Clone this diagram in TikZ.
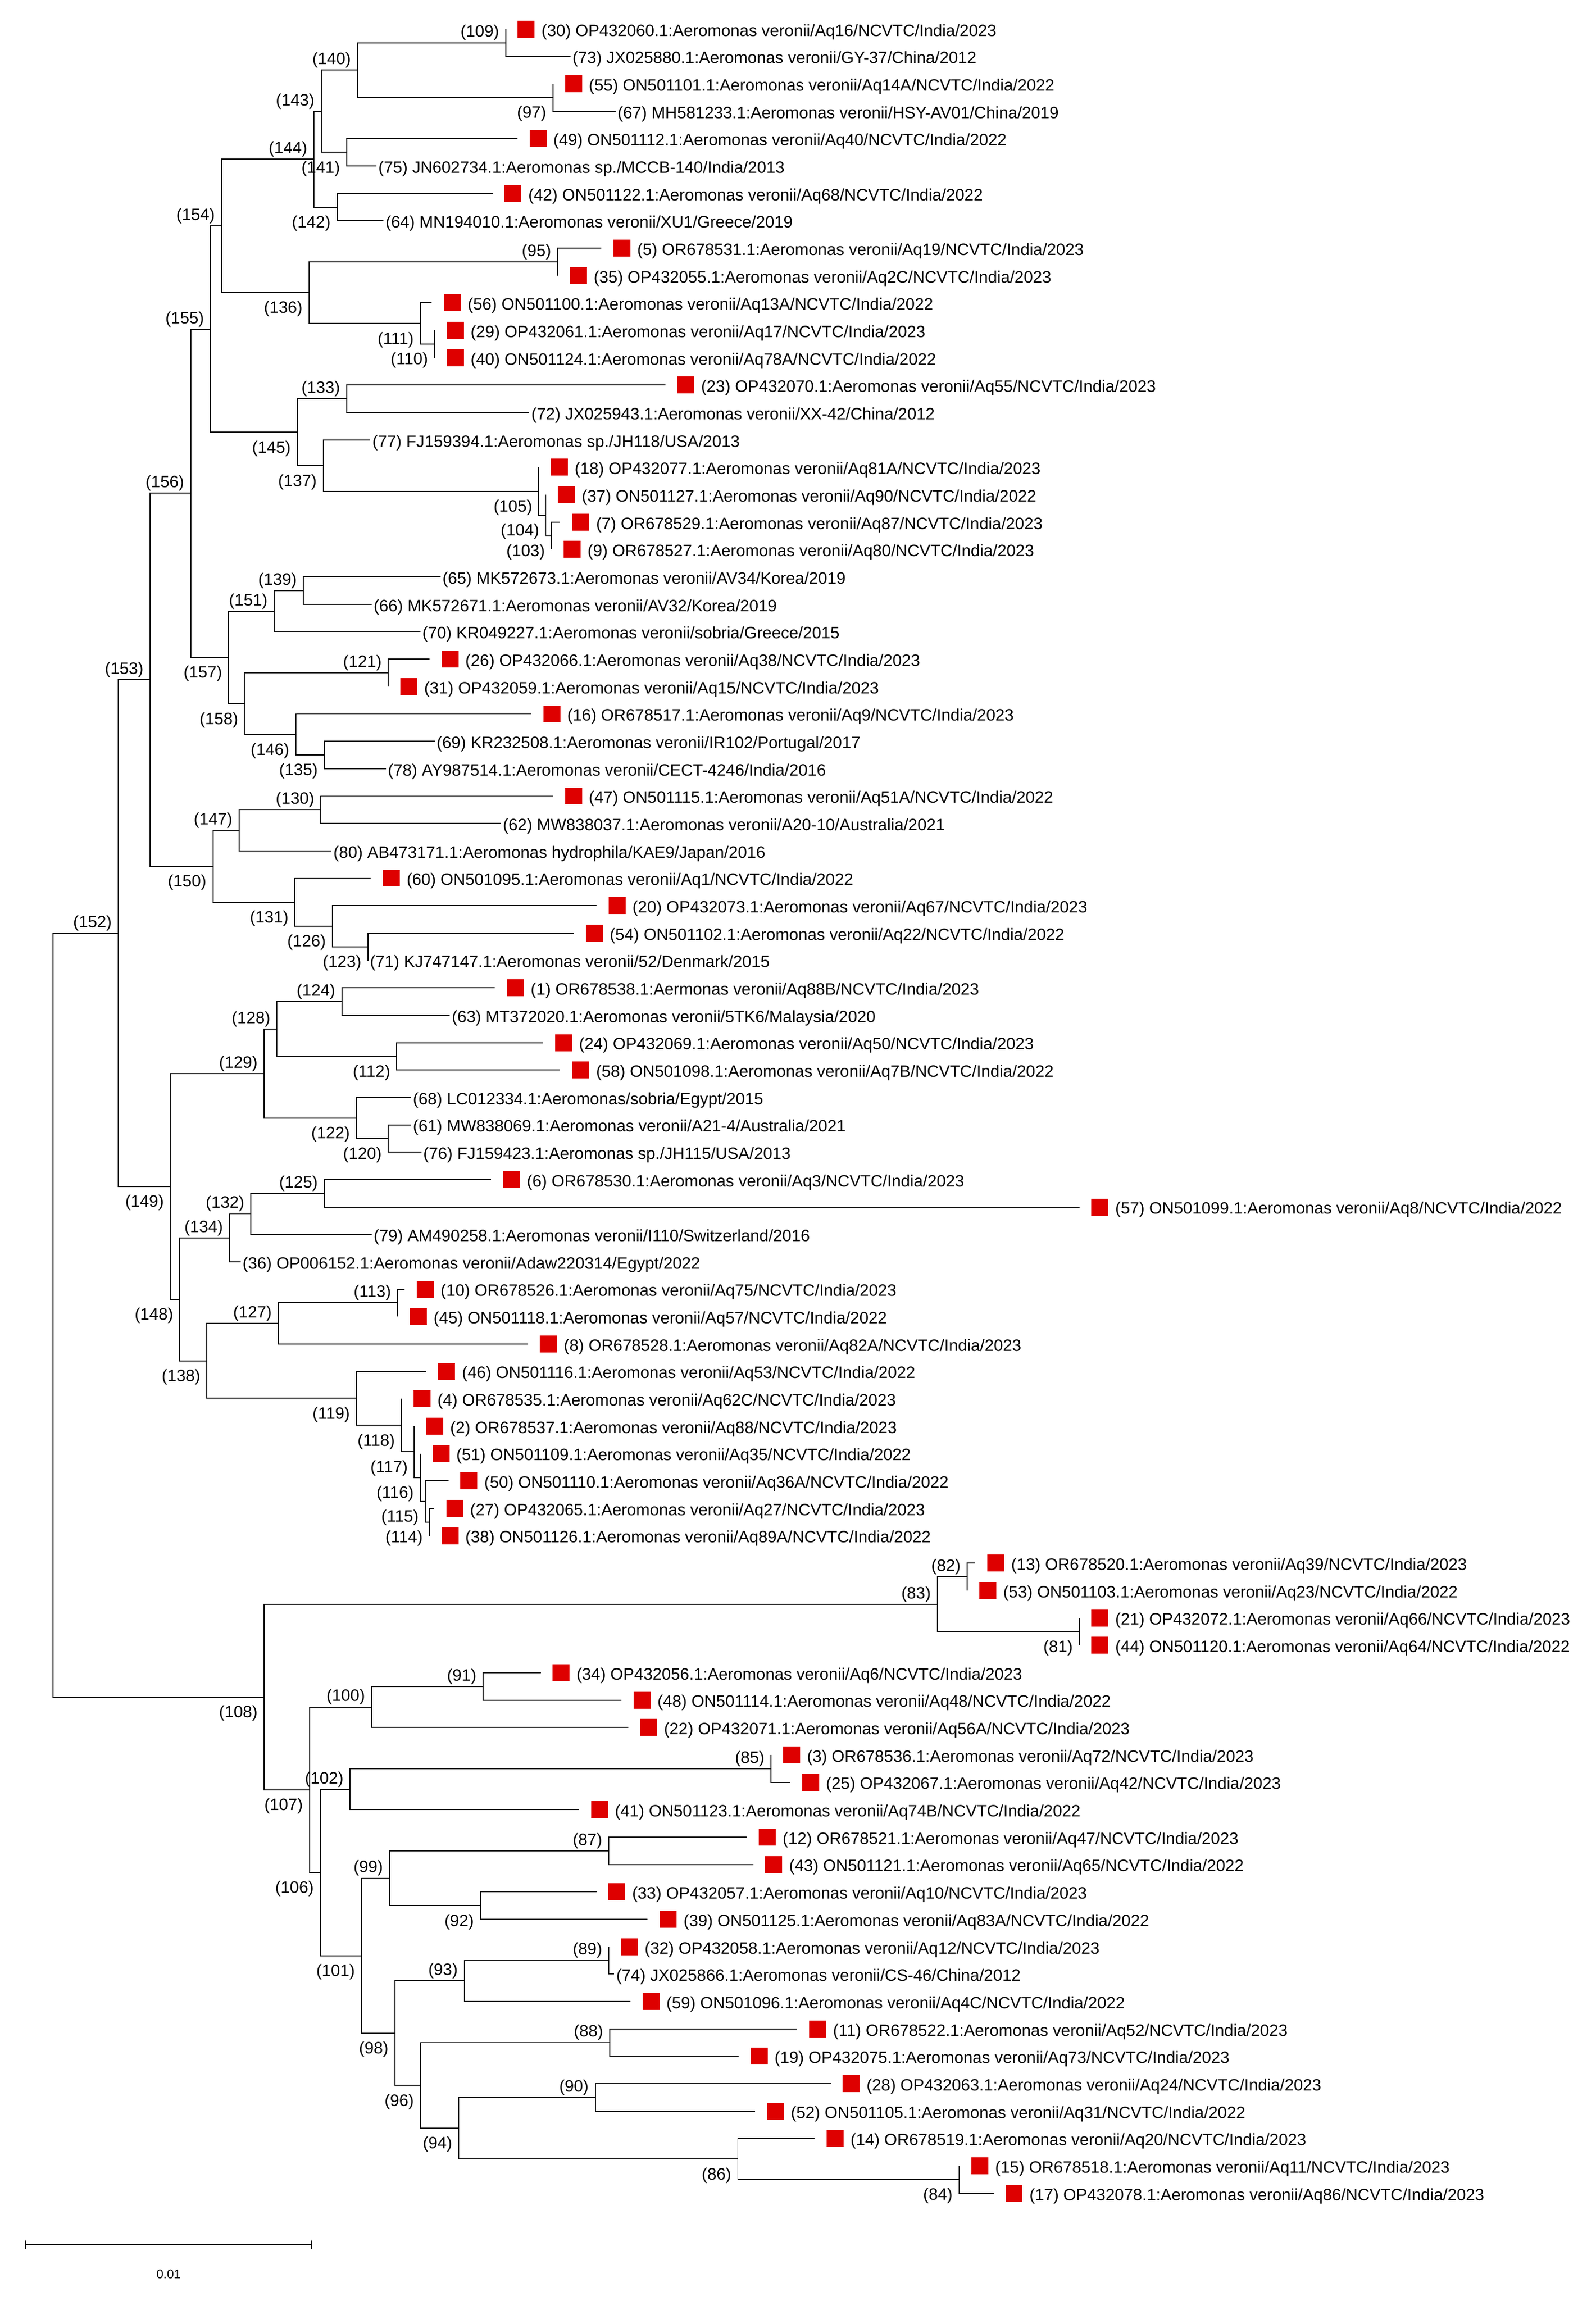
\documentclass[tikz,border=0pt]{standalone}
\usepackage{fontspec}
\setmainfont{Liberation Sans}
\usetikzlibrary{calc}
\definecolor{sqred}{RGB}{222,0,0}
\tikzset{
  br/.style={line width=0.7pt, draw=black},
  sq/.style={fill=sqred, draw=none, minimum size=11.5pt, inner sep=0pt, anchor=west},
  lt/.style={anchor=base west, inner sep=0pt, font=\fontsize{11.2pt}{13pt}\selectfont},
  labA/.style={anchor=base east, inner sep=0pt, xshift=-4.3pt, yshift=3.8pt, font=\fontsize{11.2pt}{13pt}\selectfont},
  labB/.style={anchor=base east, inner sep=0pt, xshift=-4.3pt, yshift=-14pt, font=\fontsize{11.2pt}{13pt}\selectfont},
  sbtext/.style={inner sep=0pt, font=\fontsize{8.5pt}{10pt}\selectfont}
}
% India leaf: name, branch-end x, row, text
\newcommand{\LeafI}[4]{%
  \coordinate (L#1) at (#2,{19.7+18.6*(#3-1)});
  \node[sq] (S#1) at ([xshift=8pt]L#1) {};
  \node[lt] (T#1) at ([xshift=24.2pt,yshift=-4.8pt]L#1) {#4};
}
% other leaf: name, branch-end x, row, text
\newcommand{\LeafN}[4]{%
  \coordinate (L#1) at (#2,{19.7+18.6*(#3-1)});
  \node[lt] (T#1) at ([xshift=1.2pt,yshift=-4.8pt]L#1) {#4};
}
% internal node: id, x, first child, last child, label style
\newcommand{\Inode}[5]{%
  \coordinate (m#1) at ($(#3)!0.5!(#4)$);
  \coordinate (n#1) at (#2,0 |- m#1);
  \draw[br] (#3) -- (n#1 |- #3) -- (n#1 |- #4) -- (#4);
  \node[#5] (lab#1) at (n#1) {(#1)};
}
\begin{document}
\begin{tikzpicture}[x=1pt,y=-1pt]
\useasboundingbox (0,0) rectangle (1083.2,1562.3);
\LeafI{30}{343.3}{1}{(30) OP432060.1:Aeromonas veronii/Aq16/NCVTC/India/2023}
\LeafN{73}{387.3}{2}{(73) JX025880.1:Aeromonas veronii/GY-37/China/2012}
\LeafI{55}{375.4}{3}{(55) ON501101.1:Aeromonas veronii/Aq14A/NCVTC/India/2022}
\LeafN{67}{417.9}{4}{(67) MH581233.1:Aeromonas veronii/HSY-AV01/China/2019}
\LeafI{49}{351.3}{5}{(49) ON501112.1:Aeromonas veronii/Aq40/NCVTC/India/2022}
\LeafN{75}{255.5}{6}{(75) JN602734.1:Aeromonas sp./MCCB-140/India/2013}
\LeafI{42}{334.3}{7}{(42) ON501122.1:Aeromonas veronii/Aq68/NCVTC/India/2022}
\LeafN{64}{260.4}{8}{(64) MN194010.1:Aeromonas veronii/XU1/Greece/2019}
\LeafI{5}{408.2}{9}{(5) OR678531.1:Aeromonas veronii/Aq19/NCVTC/India/2023}
\LeafI{35}{378.7}{10}{(35) OP432055.1:Aeromonas veronii/Aq2C/NCVTC/India/2023}
\LeafI{56}{293.1}{11}{(56) ON501100.1:Aeromonas veronii/Aq13A/NCVTC/India/2022}
\LeafI{29}{295.1}{12}{(29) OP432061.1:Aeromonas veronii/Aq17/NCVTC/India/2023}
\LeafI{40}{295.1}{13}{(40) ON501124.1:Aeromonas veronii/Aq78A/NCVTC/India/2022}
\LeafI{23}{451.6}{14}{(23) OP432070.1:Aeromonas veronii/Aq55/NCVTC/India/2023}
\LeafN{72}{359.3}{15}{(72) JX025943.1:Aeromonas veronii/XX-42/China/2012}
\LeafN{77}{251.4}{16}{(77) FJ159394.1:Aeromonas sp./JH118/USA/2013}
\LeafI{18}{365.8}{17}{(18) OP432077.1:Aeromonas veronii/Aq81A/NCVTC/India/2023}
\LeafI{37}{370.6}{18}{(37) ON501127.1:Aeromonas veronii/Aq90/NCVTC/India/2022}
\LeafI{7}{380.3}{19}{(7) OR678529.1:Aeromonas veronii/Aq87/NCVTC/India/2023}
\LeafI{9}{374.5}{20}{(9) OR678527.1:Aeromonas veronii/Aq80/NCVTC/India/2023}
\LeafN{65}{299.0}{21}{(65) MK572673.1:Aeromonas veronii/AV34/Korea/2019}
\LeafN{66}{252.3}{22}{(66) MK572671.1:Aeromonas veronii/AV32/Korea/2019}
\LeafN{70}{285.4}{23}{(70) KR049227.1:Aeromonas veronii/sobria/Greece/2015}
\LeafI{26}{291.5}{24}{(26) OP432066.1:Aeromonas veronii/Aq38/NCVTC/India/2023}
\LeafI{31}{263.6}{25}{(31) OP432059.1:Aeromonas veronii/Aq15/NCVTC/India/2023}
\LeafI{16}{360.7}{26}{(16) OR678517.1:Aeromonas veronii/Aq9/NCVTC/India/2023}
\LeafN{69}{295.1}{27}{(69) KR232508.1:Aeromonas veronii/IR102/Portugal/2017}
\LeafN{78}{262.0}{28}{(78) AY987514.1:Aeromonas veronii/CECT-4246/India/2016}
\LeafI{47}{375.4}{29}{(47) ON501115.1:Aeromonas veronii/Aq51A/NCVTC/India/2022}
\LeafN{62}{340.1}{30}{(62) MW838037.1:Aeromonas veronii/A20-10/Australia/2021}
\LeafN{80}{225.0}{31}{(80) AB473171.1:Aeromonas hydrophila/KAE9/Japan/2016}
\LeafI{60}{251.7}{32}{(60) ON501095.1:Aeromonas veronii/Aq1/NCVTC/India/2022}
\LeafI{20}{405.0}{33}{(20) OP432073.1:Aeromonas veronii/Aq67/NCVTC/India/2023}
\LeafI{54}{389.6}{34}{(54) ON501102.1:Aeromonas veronii/Aq22/NCVTC/India/2022}
\LeafN{71}{249.8}{35}{(71) KJ747147.1:Aeromonas veronii/52/Denmark/2015}
\LeafI{1}{335.9}{36}{(1) OR678538.1:Aermonas veronii/Aq88B/NCVTC/India/2023}
\LeafN{63}{305.4}{37}{(63) MT372020.1:Aeromonas veronii/5TK6/Malaysia/2020}
\LeafI{24}{368.7}{38}{(24) OP432069.1:Aeromonas veronii/Aq50/NCVTC/India/2023}
\LeafI{58}{380.3}{39}{(58) ON501098.1:Aeromonas veronii/Aq7B/NCVTC/India/2022}
\LeafN{68}{279.0}{40}{(68) LC012334.1:Aeromonas/sobria/Egypt/2015}
\LeafN{61}{279.0}{41}{(61) MW838069.1:Aeromonas veronii/A21-4/Australia/2021}
\LeafN{76}{286.0}{42}{(76) FJ159423.1:Aeromonas sp./JH115/USA/2013}
\LeafI{6}{333.3}{43}{(6) OR678530.1:Aeromonas veronii/Aq3/NCVTC/India/2023}
\LeafI{57}{732.8}{44}{(57) ON501099.1:Aeromonas veronii/Aq8/NCVTC/India/2022}
\LeafN{79}{252.3}{45}{(79) AM490258.1:Aeromonas veronii/I110/Switzerland/2016}
\LeafN{36}{163.3}{46}{(36) OP006152.1:Aeromonas veronii/Adaw220314/Egypt/2022}
\LeafI{10}{274.8}{47}{(10) OR678526.1:Aeromonas veronii/Aq75/NCVTC/India/2023}
\LeafI{45}{270.0}{48}{(45) ON501118.1:Aeromonas veronii/Aq57/NCVTC/India/2022}
\LeafI{8}{358.4}{49}{(8) OR678528.1:Aeromonas veronii/Aq82A/NCVTC/India/2023}
\LeafI{46}{289.3}{50}{(46) ON501116.1:Aeromonas veronii/Aq53/NCVTC/India/2022}
\LeafI{4}{272.6}{51}{(4) OR678535.1:Aeromonas veronii/Aq62C/NCVTC/India/2023}
\LeafI{2}{281.3}{52}{(2) OR678537.1:Aeromonas veronii/Aq88/NCVTC/India/2023}
\LeafI{51}{285.4}{53}{(51) ON501109.1:Aeromonas veronii/Aq35/NCVTC/India/2022}
\LeafI{50}{304.4}{54}{(50) ON501110.1:Aeromonas veronii/Aq36A/NCVTC/India/2022}
\LeafI{27}{294.8}{55}{(27) OP432065.1:Aeromonas veronii/Aq27/NCVTC/India/2023}
\LeafI{38}{291.5}{56}{(38) ON501126.1:Aeromonas veronii/Aq89A/NCVTC/India/2022}
\LeafI{13}{662.1}{57}{(13) OR678520.1:Aeromonas veronii/Aq39/NCVTC/India/2023}
\LeafI{53}{656.7}{58}{(53) ON501103.1:Aeromonas veronii/Aq23/NCVTC/India/2022}
\LeafI{21}{732.8}{59}{(21) OP432072.1:Aeromonas veronii/Aq66/NCVTC/India/2023}
\LeafI{44}{732.8}{60}{(44) ON501120.1:Aeromonas veronii/Aq64/NCVTC/India/2022}
\LeafI{34}{367.0}{61}{(34) OP432056.1:Aeromonas veronii/Aq6/NCVTC/India/2023}
\LeafI{48}{422.0}{62}{(48) ON501114.1:Aeromonas veronii/Aq48/NCVTC/India/2022}
\LeafI{22}{426.4}{63}{(22) OP432071.1:Aeromonas veronii/Aq56A/NCVTC/India/2023}
\LeafI{3}{523.5}{64}{(3) OR678536.1:Aeromonas veronii/Aq72/NCVTC/India/2023}
\LeafI{25}{536.4}{65}{(25) OP432067.1:Aeromonas veronii/Aq42/NCVTC/India/2023}
\LeafI{41}{393.1}{66}{(41) ON501123.1:Aeromonas veronii/Aq74B/NCVTC/India/2022}
\LeafI{12}{507.0}{67}{(12) OR678521.1:Aeromonas veronii/Aq47/NCVTC/India/2023}
\LeafI{43}{511.4}{68}{(43) ON501121.1:Aeromonas veronii/Aq65/NCVTC/India/2022}
\LeafI{33}{404.8}{69}{(33) OP432057.1:Aeromonas veronii/Aq10/NCVTC/India/2023}
\LeafI{39}{439.7}{70}{(39) ON501125.1:Aeromonas veronii/Aq83A/NCVTC/India/2022}
\LeafI{32}{413.3}{71}{(32) OP432058.1:Aeromonas veronii/Aq12/NCVTC/India/2023}
\LeafN{74}{417.0}{72}{(74) JX025866.1:Aeromonas veronii/CS-46/China/2012}
\LeafI{59}{428.0}{73}{(59) ON501096.1:Aeromonas veronii/Aq4C/NCVTC/India/2022}
\LeafI{11}{541.2}{74}{(11) OR678522.1:Aeromonas veronii/Aq52/NCVTC/India/2023}
\LeafI{19}{501.5}{75}{(19) OP432075.1:Aeromonas veronii/Aq73/NCVTC/India/2023}
\LeafI{28}{563.9}{76}{(28) OP432063.1:Aeromonas veronii/Aq24/NCVTC/India/2023}
\LeafI{52}{512.5}{77}{(52) ON501105.1:Aeromonas veronii/Aq31/NCVTC/India/2022}
\LeafI{14}{553.0}{78}{(14) OR678519.1:Aeromonas veronii/Aq20/NCVTC/India/2023}
\LeafI{15}{651.2}{79}{(15) OR678518.1:Aeromonas veronii/Aq11/NCVTC/India/2023}
\LeafI{17}{674.5}{80}{(17) OP432078.1:Aeromonas veronii/Aq86/NCVTC/India/2023}
% upper clade
\Inode{109}{343.3}{L30}{L73}{labA}
\Inode{97}{375.4}{L55}{L67}{labB}
\Inode{140}{242.7}{n109}{n97}{labA}
\Inode{141}{235.3}{L49}{L75}{labB}
\Inode{143}{218.0}{n140}{n141}{labA}
\Inode{142}{228.9}{L42}{L64}{labB}
\Inode{144}{213.1}{n143}{n142}{labA}
\Inode{95}{378.7}{L5}{L35}{labA}
\Inode{110}{295.1}{L29}{L40}{labB}
\Inode{111}{285.4}{L56}{n110}{labB}
\Inode{136}{209.9}{n95}{n111}{labB}
\Inode{154}{150.4}{n144}{n136}{labA}
\Inode{133}{235.3}{L23}{L72}{labA}
\Inode{103}{374.5}{L7}{L9}{labB}
\Inode{104}{370.6}{L37}{n103}{labB}
\Inode{105}{365.8}{L18}{n104}{labB}
\Inode{137}{219.5}{L77}{n105}{labB}
\Inode{145}{201.9}{n133}{n137}{labB}
\Inode{155}{143.0}{n154}{n145}{labA}
\Inode{139}{206.0}{L65}{L66}{labA}
\Inode{151}{186.1}{n139}{L70}{labA}
\Inode{121}{263.6}{L26}{L31}{labA}
\Inode{135}{220.2}{L69}{L78}{labB}
\Inode{146}{200.9}{L16}{n135}{labB}
\Inode{158}{166.2}{n121}{n146}{labB}
\Inode{157}{155.3}{n151}{n158}{labB}
\Inode{156}{129.5}{n155}{n157}{labA}
\Inode{130}{217.9}{L47}{L62}{labA}
\Inode{147}{162.3}{n130}{L80}{labA}
\Inode{123}{249.8}{L54}{L71}{labB}
\Inode{126}{225.7}{L20}{n123}{labB}
\Inode{131}{200.3}{L60}{n126}{labB}
\Inode{150}{144.6}{n147}{n131}{labB}
\Inode{153}{101.9}{n156}{n150}{labA}
\Inode{124}{232.1}{L1}{L63}{labA}
\Inode{112}{269.4}{L24}{L58}{labB}
\Inode{128}{188.0}{n124}{n112}{labA}
\Inode{120}{263.6}{L61}{L76}{labB}
\Inode{122}{242.0}{L68}{n120}{labB}
\Inode{129}{179.4}{n128}{n122}{labA}
\Inode{125}{220.2}{L6}{L57}{labA}
\Inode{132}{170.4}{n125}{L79}{labA}
\Inode{134}{155.9}{n132}{L36}{labA}
\Inode{113}{270.0}{L10}{L45}{labA}
\Inode{127}{189.0}{n113}{L8}{labA}
\Inode{114}{291.5}{L27}{L38}{labB}
\Inode{115}{288.7}{L50}{n114}{labB}
\Inode{116}{285.4}{L51}{n115}{labB}
\Inode{117}{281.3}{L2}{n116}{labB}
\Inode{118}{272.6}{L4}{n117}{labB}
\Inode{119}{242.0}{L46}{n118}{labB}
\Inode{138}{140.5}{n127}{n119}{labB}
\Inode{148}{122.1}{n134}{n138}{labB}
\Inode{149}{115.7}{n129}{n148}{labB}
\Inode{152}{80.4}{n153}{n149}{labA}
% lower clade
\Inode{82}{656.7}{L13}{L53}{labA}
\Inode{81}{732.8}{L21}{L44}{labB}
\Inode{83}{636.4}{n82}{n81}{labA}
\Inode{91}{327.9}{L34}{L48}{labA}
\Inode{100}{252.3}{n91}{L22}{labA}
\Inode{85}{523.5}{L3}{L25}{labA}
\Inode{102}{237.7}{n85}{L41}{labA}
\Inode{87}{413.3}{L12}{L43}{labA}
\Inode{92}{326.2}{L33}{L39}{labB}
\Inode{99}{264.5}{n87}{n92}{labA}
\Inode{89}{413.3}{L32}{L74}{labA}
\Inode{93}{315.2}{n89}{L59}{labA}
\Inode{88}{414.0}{L11}{L19}{labA}
\Inode{90}{404.1}{L28}{L52}{labA}
\Inode{84}{651.2}{L15}{L17}{labB}
\Inode{86}{500.9}{L14}{n84}{labB}
\Inode{94}{311.5}{n90}{n86}{labB}
\Inode{96}{285.5}{n88}{n94}{labB}
\Inode{98}{268.2}{n93}{n96}{labB}
\Inode{101}{245.4}{n99}{n98}{labB}
\Inode{106}{217.5}{n102}{n101}{labB}
\Inode{107}{210.1}{n100}{n106}{labB}
\Inode{108}{179.4}{n83}{n107}{labB}
% root
\coordinate (mroot) at ($(n152)!0.5!(n108)$);
\coordinate (nroot) at (36.0,0 |- mroot);
\draw[br] (n152) -- (nroot |- n152) -- (nroot |- n108) -- (n108);
% scale bar
\coordinate (sbL) at (17.2,1524.1);
\coordinate (sbR) at (211.8,1524.1);
\draw[br] (sbL) -- (sbR);
\draw[br] ([yshift=3pt]sbL) -- ([yshift=-3pt]sbL);
\draw[br] ([yshift=3pt]sbR) -- ([yshift=-3pt]sbR);
\node[sbtext] (sbT) at (114.5,1544.2) {0.01};
\end{tikzpicture}
\end{document}
